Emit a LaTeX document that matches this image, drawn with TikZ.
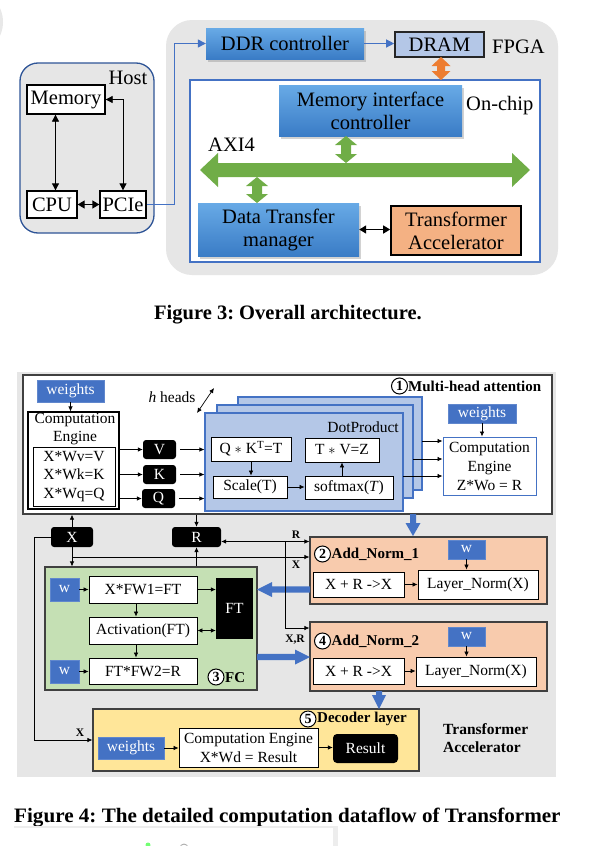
\documentclass[tikz,border=0pt]{standalone}
\usepackage{fontspec}
\setmainfont{Liberation Serif}
\usetikzlibrary{arrows.meta,shadows,calc}
\definecolor{bgray}{HTML}{E6E6E6}
\definecolor{hostblue}{HTML}{2F5597}
\definecolor{lblue}{HTML}{4472C4}
\definecolor{gtop}{HTML}{68AAE6}
\definecolor{gbot}{HTML}{3A7CC6}
\definecolor{palebl}{HTML}{B4C7E7}
\definecolor{orng}{HTML}{ED7D31}
\definecolor{salmon}{HTML}{F4B183}
\definecolor{peach}{HTML}{F8CBAD}
\definecolor{axig}{HTML}{70AD47}
\definecolor{fcg}{HTML}{C5E0B4}
\definecolor{decy}{HTML}{FFE699}
\definecolor{dgray}{HTML}{404040}
\newcommand{\vdarrow}[7]{\fill[#7] (#1,#2) -- ({#1+#5},{#2+#6}) -- ({#1+#4},{#2+#6}) -- ({#1+#4},{#3-#6}) -- ({#1+#5},{#3-#6}) -- (#1,#3) -- ({#1-#5},{#3-#6}) -- ({#1-#4},{#3-#6}) -- ({#1-#4},{#2+#6}) -- ({#1-#5},{#2+#6}) -- cycle;}
\newcommand{\hdarrow}[7]{\fill[#7] (#2,#1) -- ({#2+#6},{#1-#5}) -- ({#2+#6},{#1-#4}) -- ({#3-#6},{#1-#4}) -- ({#3-#6},{#1-#5}) -- (#3,#1) -- ({#3-#6},{#1+#5}) -- ({#3-#6},{#1+#4}) -- ({#2+#6},{#1+#4}) -- ({#2+#6},{#1+#5}) -- cycle;}
\newcommand{\sarrowD}[7]{\fill[#7] ({#1-#4},#2) -- ({#1-#4},{#3-#6}) -- ({#1-#5},{#3-#6}) -- (#1,#3) -- ({#1+#5},{#3-#6}) -- ({#1+#4},{#3-#6}) -- ({#1+#4},#2) -- cycle;}
\newcommand{\sarrowR}[7]{\fill[#7] (#2,{#1-#4}) -- ({#3-#6},{#1-#4}) -- ({#3-#6},{#1-#5}) -- (#3,#1) -- ({#3-#6},{#1+#5}) -- ({#3-#6},{#1+#4}) -- (#2,{#1+#4}) -- cycle;}
\newcommand{\sarrowL}[7]{\fill[#7] (#2,{#1-#4}) -- ({#3+#6},{#1-#4}) -- ({#3+#6},{#1-#5}) -- (#3,#1) -- ({#3+#6},{#1+#5}) -- ({#3+#6},{#1+#4}) -- (#2,{#1+#4}) -- cycle;}
\frenchspacing
\begin{document}
\begin{tikzpicture}[x=1pt,y=-1pt,
  f3/.style={font=\fontsize{20.5}{23}\selectfont},
  f4/.style={font=\fontsize{15.5}{18.5}\selectfont},
  wbox3/.style={draw=black, line width=1.3pt, fill=white, inner sep=0pt, f3},
  gradbox/.style={top color=gtop, bottom color=gbot, draw=none, inner sep=0pt, f3, align=center,
     drop shadow={shadow xshift=1.5pt, shadow yshift=-2.5pt, opacity=0.35}},
  wb/.style={draw=black, line width=0.8pt, fill=white, inner sep=0pt, f4},
  bw/.style={fill=lblue, text=white, inner sep=0pt, f4, draw=lblue!85!white},
  blk/.style={fill=black, text=white, rounded corners=3pt, inner sep=0pt, f4},
  cnum/.style={circle, draw=black, line width=1pt, fill=white, inner sep=0pt, minimum size=16pt, font=\bfseries\fontsize{14}{14}\selectfont},
  lbl/.style={font=\bfseries\fontsize{15}{17}\selectfont, inner sep=0pt, anchor=west},
  sml/.style={font=\bfseries\fontsize{11.5}{12}\selectfont, inner sep=0pt},
  a3/.style={line width=0.8pt, {Triangle[length=7pt,width=7pt]}-{Triangle[length=7pt,width=7pt]}},
  a3b/.style={line width=1.3pt, {Triangle[length=7pt,width=8pt]}-{Triangle[length=7pt,width=8pt]}},
  bl3/.style={draw=lblue, line width=1.2pt, -{Triangle[length=8pt,width=8pt]}},
  ar/.style={line width=0.7pt, -{Latex[length=5pt,width=4.5pt]}},
  arb/.style={line width=0.7pt, {Latex[length=5pt,width=4.5pt]}-{Latex[length=5pt,width=4.5pt]}},
  dpbox/.style={draw=lblue, line width=1.1pt, fill=palebl, inner sep=0pt},
  stage/.style={draw=dgray, line width=1.1pt, inner sep=0pt}
]
\useasboundingbox (0,0) rectangle (609,846);
\fill[white] (0,0) rectangle (609,846);
\fill[black!9] (-30,22) circle (33);

% ================= Figure 3 =================
\fill[bgray, rounded corners=26pt] (166,20) rectangle (558,275);
\node[draw=hostblue, line width=1.3pt, fill=bgray, rounded corners=18pt, minimum width=134pt, minimum height=170pt, inner sep=0pt] (host) at (87,148) {};
\node[f3, inner sep=0pt] (hostlbl) at (128,78) {Host};
\node[wbox3, minimum width=78pt, minimum height=29pt] (mem) at (66,99.5) {Memory};
\node[wbox3, minimum width=50pt, minimum height=27pt] (cpu) at (52,204.5) {CPU};
\node[wbox3, minimum width=46pt, minimum height=27pt] (pcie) at (123,204.5) {PCIe};

\node[gradbox, minimum width=158pt, minimum height=31pt] (ddr) at (285,43.5) {DDR controller};
\node[draw=black!85, line width=1.6pt, fill=palebl, minimum width=89pt, minimum height=25pt, inner sep=0pt, f3] (dram) at (439.5,44.5) {DRAM};
\node[f3, anchor=west, inner sep=0pt] (fpgalbl) at (492,47) {FPGA};

\node[draw=lblue, line width=1.3pt, fill=white, minimum width=350pt, minimum height=182pt, inner sep=0pt] (onchip) at (365,171) {};
\node[f3, anchor=west, inner sep=0pt] (oclbl) at (466,106) {On-chip};
\node[gradbox, minimum width=183pt, minimum height=51pt] (mic) at (370.5,110.5) {Memory interface\\controller};
\node[f3, anchor=west, inner sep=0pt] (axilbl) at (208,145) {AXI4};
\node[gradbox, minimum width=161pt, minimum height=53pt] (dtm) at (278.5,229.5) {Data Transfer\\manager};
\node[draw=black, line width=1.6pt, fill=salmon, minimum width=130pt, minimum height=49pt, inner sep=0pt, f3, align=center] (ta) at (456,230.5) {Transformer\\Accelerator};

\vdarrow{441}{57}{80}{4}{9.5}{9}{orng}
\hdarrow{170}{200}{530}{7}{17}{18}{axig}
\vdarrow{346}{136}{163}{5}{11}{9}{axig}
\vdarrow{257}{177}{203}{5}{11}{9}{axig}

\draw[a3] ([xshift=3.5pt]cpu.north) -- ([xshift=3.5pt]cpu.north |- mem.south);
\draw[a3] (mem.east) -| (pcie.north);
\draw[a3b] (cpu.east) -- (pcie.west);
\draw[bl3] (pcie.east) -- ++(28,0) |- (ddr.west);
\draw[bl3] (ddr.east) -- (ddr.east -| dram.west);
\draw[a3b] (dtm.east) -- (dtm.east -| ta.west);

\node[font=\bfseries\fontsize{20.5}{22}\selectfont, inner sep=0pt] (cap3) at (288,315) {Figure 3: Overall architecture.};

% ================= Figure 4 =================
\node[fill=bgray, minimum width=539pt, minimum height=405pt, inner sep=0pt] (tabg) at (286.5,574.5) {};
\node[stage, line width=1.3pt, fill=white, minimum width=529pt, minimum height=139pt] (mha) at (287.5,444.5) {};
\node[cnum] (c1) at (399.5,386) {1};
\node[lbl] (mhalbl) at (408,386) {Multi-head attention};

\node[bw, minimum width=67pt, minimum height=22pt] (w1) at (70.5,391) {weights};
\node[draw=black, line width=1.1pt, fill=white, minimum width=91pt, minimum height=97pt, inner sep=0pt] (ce1) at (73.5,460.5) {};
\node[f4, inner sep=0pt, align=center, font=\fontsize{15.5}{18}\selectfont] (ce1t) at (75,429) {Computation\\Engine};
\node[draw=black, line width=0.9pt, minimum width=82pt, minimum height=59pt, inner sep=0pt, f4, align=center] (ce1in) at (74,476.5) {X*Wv=V\\X*Wk=K\\X*Wq=Q};

\node[blk, minimum width=33pt, minimum height=19pt] (V) at (159.5,449.5) {V};
\node[blk, minimum width=33pt, minimum height=19pt] (K) at (159.5,474.5) {K};
\node[blk, minimum width=33pt, minimum height=19pt] (Q) at (158.5,498.5) {Q};

\node[dpbox, minimum width=184pt, minimum height=93pt] (dpb) at (330,443.5) {};
\node[dpbox, minimum width=196pt, minimum height=93pt] (dpm) at (315,451.5) {};
\node[dpbox, minimum width=198pt, minimum height=98pt] (dpf) at (304,462) {};
\node[f4, anchor=east, inner sep=0pt] (dplbl) at (399,427) {DotProduct};
\node[wb, minimum width=80pt, minimum height=24pt] (qk) at (251,449) {Q $\ast$ K\textsuperscript{T}=T};
\node[wb, minimum width=74pt, minimum height=24pt] (tv) at (342,450) {T $\ast$ V=Z};
\node[wb, minimum width=74pt, minimum height=22pt] (sc) at (250,487) {Scale(T)};
\node[wb, minimum width=88pt, minimum height=23pt] (sm) at (349,487.5) {softmax(\textit{T})};
\node[f4, inner sep=0pt] (hh) at (172,397) {\textit{h} heads};
\coordinate (ha) at (197,413);
\coordinate (hb) at (214,388);

\node[bw, minimum width=68pt, minimum height=19pt] (w2) at (482,413.5) {weights};
\node[draw=lblue, line width=1pt, fill=white, minimum width=93pt, minimum height=58pt, inner sep=0pt, align=center, font=\fontsize{15.5}{19}\selectfont] (ce2) at (489.5,466) {Computation\\Engine\\Z*Wo = R};
\coordinate (o1) at (422,441);
\coordinate (o2) at (413,459);
\coordinate (o3) at (403,476);

\node[blk, minimum width=42pt, minimum height=20pt] (X) at (72,537) {X};
\node[blk, minimum width=49pt, minimum height=20pt] (R) at (196.5,537) {R};

% FC
\node[stage, fill=fcg, minimum width=212pt, minimum height=123pt] (fc) at (151,628.5) {};
\node[bw, minimum width=29pt, minimum height=23pt] (wa) at (64.5,589.5) {w};
\node[wb, minimum width=108pt, minimum height=27pt] (fw1) at (143,589.5) {X*FW1=FT};
\node[wb, minimum width=108pt, minimum height=27pt] (act) at (143,630.5) {Activation(FT)};
\node[wb, minimum width=108pt, minimum height=26pt] (fw2) at (143,671) {FT*FW2=R};
\node[bw, minimum width=29pt, minimum height=23pt] (wb2) at (64.5,671.5) {w};
\node[fill=black, text=white, f4, minimum width=37pt, minimum height=61pt, inner sep=0pt] (ft) at (234.5,608.5) {FT};
\node[cnum] (c3) at (216,677) {3};
\node[lbl] (fclbl) at (225,678) {FC};

% Add_Norm_1
\node[stage, fill=peach, minimum width=237pt, minimum height=67pt] (an1) at (428.5,570.5) {};
\node[cnum] (c2) at (322.5,554) {2};
\node[lbl] (an1lbl) at (331.5,554) {Add\_Norm\_1};
\node[bw, minimum width=37pt, minimum height=19pt] (wn1) at (466.5,549.5) {w};
\node[wb, minimum width=91pt, minimum height=25pt] (xr1) at (358.5,584.5) {X + R ->X};
\node[wb, minimum width=120pt, minimum height=29pt] (ln1) at (478,584.5) {Layer\_Norm(X)};

% Add_Norm_2
\node[stage, fill=peach, minimum width=237pt, minimum height=69pt] (an2) at (428.5,656.5) {};
\node[cnum] (c4) at (322.5,641) {4};
\node[lbl] (an2lbl) at (331.5,641) {Add\_Norm\_2};
\node[bw, minimum width=37pt, minimum height=19pt] (wn2) at (466.5,636.5) {w};
\node[wb, minimum width=91pt, minimum height=26pt] (xr2) at (358.5,671) {X + R ->X};
\node[wb, minimum width=120pt, minimum height=29pt] (ln2) at (476,671.5) {Layer\_Norm(X)};

% Decoder
\node[stage, fill=decy, minimum width=326pt, minimum height=62pt] (dec) at (256,740) {};
\node[cnum] (c5) at (308,719) {5};
\node[lbl] (declbl) at (317,719) {Decoder layer};
\node[bw, minimum width=66pt, minimum height=22pt] (wd) at (131,748) {weights};
\node[wb, minimum width=139pt, minimum height=39pt, align=center, font=\fontsize{15.5}{19}\selectfont] (ced) at (248.5,747.5) {Computation Engine\\X*Wd = Result};
\node[blk, rounded corners=4pt, minimum width=65pt, minimum height=29pt] (res) at (365.5,748.5) {Result};

\node[font=\bfseries\fontsize{15.5}{18}\selectfont, anchor=west, align=left, inner sep=0pt] (talbl) at (443,738) {Transformer\\Accelerator};

% labels
\node[sml] (xl1) at (296,565) {X};
\node[sml] (rl1) at (296,535) {R};
\node[sml] (xrl) at (295,640) {X,R};
\node[sml] (xl2) at (80,733) {X};

% coordinates for junctions
\coordinate (xj) at (72,557);
\coordinate (rj) at (285,541.5);
\coordinate (rj2) at (285,628);

% block arrows
\sarrowD{413}{514}{536}{3}{7.5}{13}{lblue}
\sarrowL{589.5}{310}{257}{3.2}{7.5}{15}{lblue}
\sarrowR{657}{257}{310}{3.2}{7.5}{15}{lblue}
\sarrowD{379}{691}{709}{3}{7}{14}{lblue}

% thin connectors
\draw[ar] (w1.south) -- (w1.south |- ce1.north);
\draw[ar] (V.west -| ce1.east) -- (V.west);
\draw[ar] (K.west -| ce1.east) -- (K.west);
\draw[ar] (Q.west -| ce1.east) -- (Q.west);
\draw[ar, shorten <=4pt] (V.east) -- (V.east -| dpf.west);
\draw[ar, shorten <=4pt] (K.east) -- (K.east -| dpf.west);
\draw[ar, shorten <=4pt] (Q.east) -- (Q.east -| dpf.west);
\draw[ar] (qk.south) -- (qk.south |- sc.north);
\draw[ar] (sc.east) -- (sc.east -| sm.west);
\draw[ar] (tv.south |- sm.north) -- (tv.south);
\draw[arb] (ha) -- (hb);
\draw[ar] (o1) -- (o1 -| ce2.west);
\draw[ar] (o2) -- (o2 -| ce2.west);
\draw[ar] (o3) -- (o3 -| ce2.west);
\draw[ar] (w2.south) -- (w2.south |- ce2.north);

\draw[ar] (X.north) -- (X.north |- mha.south);
\draw[ar] (R.north |- mha.south) -- (R.north);
\draw[ar] (X.south) -- (X.south |- fc.north);
\draw[ar] (R.south |- fc.north) -- (R.south);
\draw[ar] (X.west) -- ++(-16,0) |- (dec.west);
\draw[ar] (xj) -- (xj -| an1.west);
\draw[ar] (rj) -- (rj -| R.east);
\draw[ar] (rj) -- (rj -| an1.west);
\draw[ar] (rj) -- (rj2) -- (rj2 -| an2.west);

\draw[ar] (wa.east) -- (fw1.west);
\draw[ar] (fw1.east) -- (fw1.east -| ft.west);
\draw[ar] ([xshift=-7pt]fw1.south) -- ([xshift=-7pt]act.north);
\draw[ar] ([xshift=-7pt]act.south) -- ([xshift=-7pt]fw2.north);
\draw[arb] (act.east) -- (act.east -| ft.west);
\draw[ar] (wb2.east) -- (wb2.east -| fw2.west);

\draw[ar] (wn1.south) -- (wn1.south |- ln1.north);
\draw[ar] (xr1.east) -- (xr1.east -| ln1.west);
\draw[ar] (wn2.south) -- (wn2.south |- ln2.north);
\draw[ar] (xr2.east) -- (xr2.east -| ln2.west);

\draw[ar] (wd.east) -- (wd.east -| ced.west);
\draw[ar] (ced.east) -- (ced.east -| res.west);

\node[font=\bfseries\fontsize{20.5}{22}\selectfont, inner sep=0pt, anchor=west] (cap4) at (14,818) {\scalebox{1.03}[1]{Figure 4: The detailed computation dataflow of Transformer}};

% bottom artifact
\fill[black!7] (14,826) rectangle (338,850);
\fill[white] (12,828) rectangle (333,850);
\fill[green!55!white] (148,845) circle (2.5);
\draw[black!35, line width=0.8pt] (184,848) circle (4);
\end{tikzpicture}
\end{document}
